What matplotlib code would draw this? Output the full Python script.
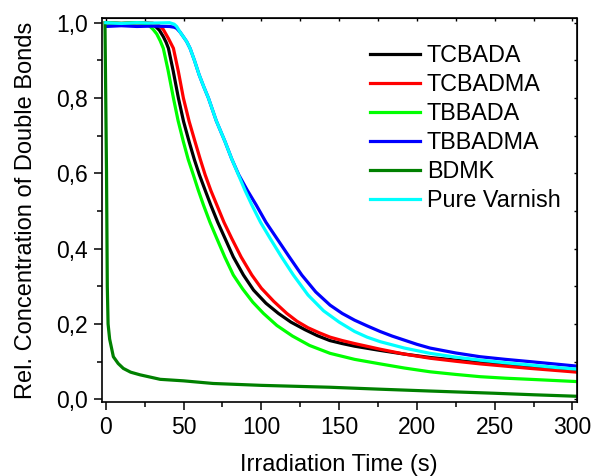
import matplotlib
matplotlib.use("Agg")
import matplotlib.pyplot as plt
from matplotlib.ticker import MultipleLocator, FuncFormatter

plt.rcParams['font.family'] = ['Liberation Sans', 'DejaVu Sans']

# ---- data ----
t_tcbada = [0, 10, 20, 27, 30, 32, 34.5, 37, 38.8, 40.3, 43.3, 46.7, 50, 53.6, 57, 60.2, 64,
            67.5, 72, 76.7, 82, 88.5, 95, 103, 111, 119, 128, 136, 144, 152, 160, 176, 192,
            208.5, 225, 240.7, 257, 272.8, 288, 303]
v_tcbada = [1.0, 0.998, 1.0, 0.999, 0.996, 0.99, 0.98, 0.963, 0.948, 0.932, 0.873, 0.80, 0.738,
            0.684, 0.636, 0.596, 0.554, 0.516, 0.47, 0.427, 0.378, 0.33, 0.29, 0.255, 0.228,
            0.205, 0.185, 0.169, 0.156, 0.148, 0.141, 0.13, 0.12, 0.111, 0.104, 0.097, 0.092,
            0.088, 0.083, 0.078]

t_tcbadma = [0, 10, 20, 30, 33, 35, 37, 40.3, 43.5, 46.7, 49.9, 53.6, 57.4, 60.7, 63.9, 67.6,
             71.4, 76, 81, 87, 93.9, 100, 108, 116.4, 123, 130, 137, 144.2, 152, 160, 176.4,
             192, 208.5, 225, 240.7, 257, 272.8, 288, 303]
v_tcbadma = [1.0, 0.998, 1.0, 0.999, 0.995, 0.99, 0.982, 0.958, 0.932, 0.87, 0.80, 0.738,
             0.684, 0.638, 0.596, 0.554, 0.516, 0.47, 0.427, 0.378, 0.33, 0.295, 0.26, 0.228,
             0.207, 0.19, 0.177, 0.165, 0.156, 0.148, 0.133, 0.12, 0.109, 0.101, 0.094, 0.088,
             0.082, 0.077, 0.072]

t_tbbada = [0, 10, 20, 24, 26.5, 28.5, 30.5, 32.8, 35, 37, 40, 43.5, 46.5, 49.9, 53, 56.3,
            59.5, 62.8, 67, 71.4, 76.5, 82, 88, 94.5, 101.4, 110, 120, 131, 144.2, 160, 176.4,
            192, 208.5, 225, 240.7, 257, 272.8, 288, 303]
v_tbbada = [1.0, 0.998, 1.0, 0.999, 0.996, 0.99, 0.982, 0.97, 0.952, 0.932, 0.875, 0.80, 0.74,
            0.684, 0.637, 0.596, 0.555, 0.516, 0.47, 0.427, 0.378, 0.33, 0.293, 0.258, 0.228,
            0.196, 0.168, 0.143, 0.122, 0.106, 0.094, 0.083, 0.073, 0.066, 0.06, 0.056, 0.053,
            0.05, 0.047]

t_tbbadma = [0, 10, 20, 30, 41, 44, 45.6, 47.8, 50, 52, 54.2, 57, 60, 63, 66, 71, 76.7, 81,
             85.5, 91, 96.7, 103, 110, 118, 126, 135, 144.2, 152, 160, 168, 176.4, 184, 192,
             200, 208.5, 225, 240.7, 257, 272.8, 288, 303]
v_tbbadma = [0.99, 0.992, 0.99, 0.991, 0.99, 0.988, 0.985, 0.975, 0.962, 0.95, 0.932, 0.9,
             0.862, 0.83, 0.80, 0.74, 0.684, 0.638, 0.596, 0.555, 0.516, 0.47, 0.427, 0.378,
             0.33, 0.285, 0.25, 0.228, 0.21, 0.195, 0.18, 0.168, 0.157, 0.146, 0.136, 0.123,
             0.113, 0.106, 0.10, 0.094, 0.088]

t_bdmk = [-0.5, 0.5, 1.0, 1.5, 2.5, 4.9, 8, 11.3, 16, 22, 35, 50, 69, 100, 144, 175, 208,
          250, 275, 303]
v_bdmk = [1.0, 0.6, 0.3, 0.2, 0.16, 0.113, 0.095, 0.082, 0.072, 0.065, 0.053, 0.049, 0.042,
          0.037, 0.032, 0.027, 0.022, 0.016, 0.012, 0.008]

t_varnish = [0, 10, 20, 30, 41, 44, 45.6, 47.8, 50, 52, 54.2, 57, 60, 63, 66, 71, 76.7, 81,
             85.3, 89.5, 93.9, 99.5, 105.7, 113, 120.6, 130, 140, 150, 160, 168, 176.4, 192,
             208.5, 225, 240.7, 257, 272.8, 288, 303]
v_varnish = [1.0, 0.998, 1.0, 0.999, 1.0, 0.996, 0.99, 0.975, 0.962, 0.95, 0.932, 0.9, 0.862,
             0.83, 0.80, 0.74, 0.684, 0.638, 0.596, 0.555, 0.516, 0.47, 0.427, 0.378, 0.33,
             0.277, 0.235, 0.205, 0.18, 0.165, 0.153, 0.136, 0.122, 0.112, 0.104, 0.097,
             0.091, 0.085, 0.08]

labels = ["TCBADA", "TCBADMA", "TBBADA", "TBBADMA", "BDMK", "Pure Varnish"]
colors = ["#000000", "#FF0000", "#00FF00", "#0000FF", "#008000", "#00FFFF"]

series = [(t_tcbada, v_tcbada), (t_tcbadma, v_tcbadma), (t_tbbada, v_tbbada),
          (t_tbbadma, v_tbbadma), (t_bdmk, v_bdmk), (t_varnish, v_varnish)]

fig = plt.figure(figsize=(5.93, 4.76), dpi=100)
ax = fig.add_axes([101.7 / 593, 1 - 401.7 / 476, (576.5 - 101.7) / 593, (401.7 - 18.3) / 476])

for (t, v), lab, c in zip(series, labels, colors):
    ax.plot(t, v, color=c, lw=2.3, label=lab, solid_joinstyle='round')

ax.set_xlim(-2.6, 302.6)
ax.set_ylim(-0.0064, 1.0117)

ax.xaxis.set_major_locator(MultipleLocator(50))
ax.xaxis.set_minor_locator(MultipleLocator(25))
ax.yaxis.set_major_locator(MultipleLocator(0.2))
ax.yaxis.set_minor_locator(MultipleLocator(0.1))
ax.yaxis.set_major_formatter(FuncFormatter(lambda v, p: f"{v:.1f}".replace('.', ',')))

for s in ax.spines.values():
    s.set_linewidth(1.2)

ax.tick_params(which='major', direction='out', length=6, width=1.1, labelsize=16.5, pad=4)
ax.tick_params(which='minor', direction='out', length=3.5, width=1.1)

secx = ax.secondary_xaxis('top')
secx.xaxis.set_major_locator(MultipleLocator(25))
secx.tick_params(direction='in', length=2, width=1, labeltop=False)
secy = ax.secondary_yaxis('right')
secy.yaxis.set_major_locator(MultipleLocator(0.1))
secy.tick_params(direction='in', length=2, width=1, labelright=False)

ax.set_xlabel("Irradiation Time (s)", fontsize=17, labelpad=11)
ax.set_ylabel("Rel. Concentration of Double Bonds", fontsize=17, labelpad=14)

ax.legend(loc='upper left', bbox_to_anchor=(370 / 593, 1 - 44 / 476),
          bbox_transform=fig.transFigure, frameon=False, fontsize=16.8,
          handlelength=2.15, handletextpad=0.28, labelspacing=0.26,
          borderpad=0, borderaxespad=0)

fig.savefig("out.png", dpi=100)
